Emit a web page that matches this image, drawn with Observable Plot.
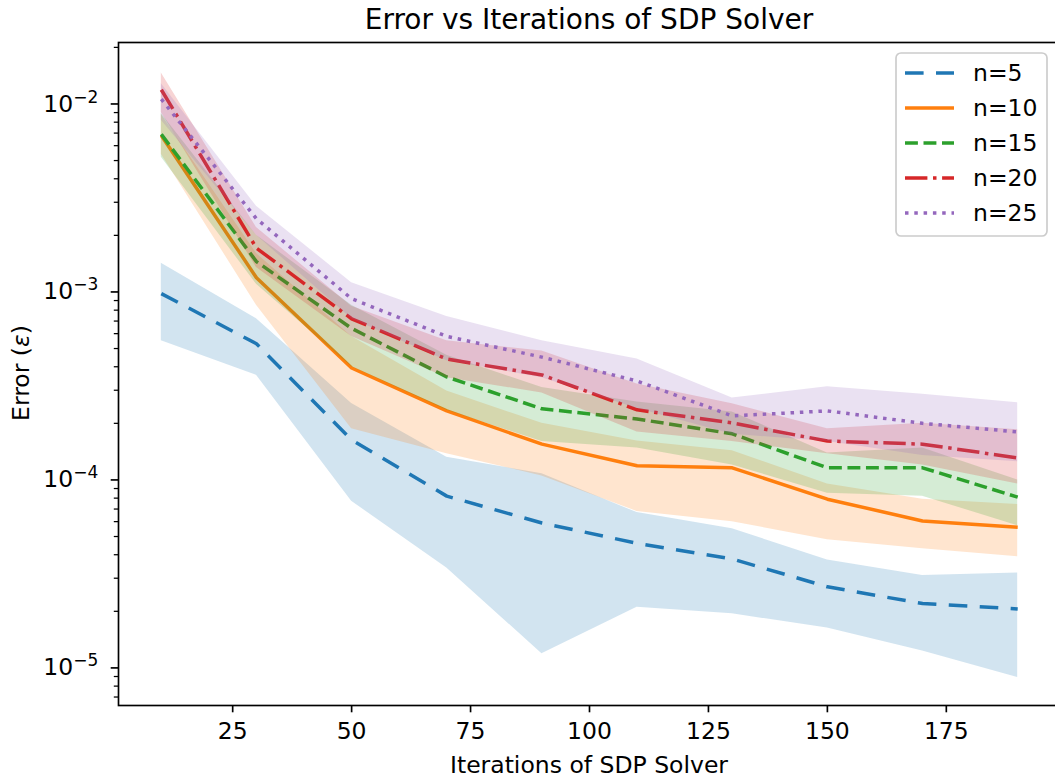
<!DOCTYPE html>
<html><head><meta charset="utf-8">
<script src="https://cdn.jsdelivr.net/npm/d3@7"></script>
<script src="https://cdn.jsdelivr.net/npm/@observablehq/plot@0.6"></script>
<style>
html,body{margin:0;padding:0;background:#fff;overflow:hidden;}
#chart{position:relative;width:1055px;height:780px;overflow:hidden;}
#chart svg{max-width:none !important;}
</style></head><body><div id="chart"></div>
<script>
const iterations = [10, 30, 50, 70, 90, 110, 130, 150, 170, 190];
const seriesNames = ["n=5", "n=10", "n=15", "n=20", "n=25"];
const colors = ["#1f77b4", "#ff7f0e", "#2ca02c", "#d62728", "#9467bd"];
const dashes = ["18.6,12.4", "none", "12.9,5.6", "22.4,5.6,3.5,5.6", "3.5,5.8"];

const n5Mean = [9.8e-4, 5.3e-4, 1.63e-4, 8.2e-5, 5.9e-5, 4.6e-5, 3.8e-5, 2.7e-5, 2.2e-5, 2.06e-5];
const n5Low  = [5.5e-4, 3.6e-4, 7.7e-5, 3.4e-5, 1.19e-5, 2.1e-5, 1.94e-5, 1.63e-5, 1.23e-5, 8.9e-6];
const n5High = [1.42e-3, 7.2e-4, 2.55e-4, 1.32e-4, 1.08e-4, 6.7e-5, 5.5e-5, 3.75e-5, 3.1e-5, 3.2e-5];

const n10Mean = [6.8e-3, 1.19e-3, 3.94e-4, 2.33e-4, 1.55e-4, 1.19e-4, 1.16e-4, 7.9e-5, 6.05e-5, 5.6e-5];
const n10Low  = [5.4e-3, 8.5e-4, 1.87e-4, 1.38e-4, 1.05e-4, 6.8e-5, 6.0e-5, 4.8e-5, 4.3e-5, 3.9e-5];
const n10High = [8.8e-3, 1.6e-3, 5.8e-4, 2.97e-4, 2.0e-4, 1.61e-4, 1.43e-4, 9.5e-5, 7.9e-5, 7.4e-5];

const n15Mean = [6.9e-3, 1.45e-3, 6.4e-4, 3.53e-4, 2.39e-4, 2.11e-4, 1.76e-4, 1.16e-4, 1.16e-4, 8.1e-5];
const n15Low  = [5.2e-3, 1.1e-3, 4.0e-4, 2.35e-4, 1.6e-4, 1.48e-4, 1.2e-4, 8.5e-5, 8.2e-5, 5.7e-5];
const n15High = [8.9e-3, 2.0e-3, 8.5e-4, 4.6e-4, 3.1e-4, 2.6e-4, 2.3e-4, 1.39e-4, 1.48e-4, 1.0e-4];

const n20Mean = [1.19e-2, 1.71e-3, 7.2e-4, 4.4e-4, 3.62e-4, 2.36e-4, 2.01e-4, 1.61e-4, 1.55e-4, 1.31e-4];
const n20Low  = [9.0e-3, 1.35e-3, 5.8e-4, 3.5e-4, 2.9e-4, 1.8e-4, 1.6e-4, 1.38e-4, 1.2e-4, 9.5e-5];
const n20High = [1.46e-2, 2.2e-3, 8.4e-4, 5.5e-4, 4.85e-4, 3.24e-4, 2.54e-4, 1.87e-4, 2.0e-4, 1.85e-4];

const n25Mean = [1.06e-2, 2.45e-3, 9.2e-4, 5.8e-4, 4.5e-4, 3.36e-4, 2.19e-4, 2.33e-4, 2.0e-4, 1.8e-4];
const n25Low  = [8.2e-3, 2.0e-3, 7.2e-4, 4.3e-4, 3.5e-4, 2.4e-4, 1.75e-4, 1.6e-4, 1.35e-4, 1.25e-4];
const n25High = [1.28e-2, 2.86e-3, 1.12e-3, 7.4e-4, 5.5e-4, 4.4e-4, 2.73e-4, 3.13e-4, 2.86e-4, 2.57e-4];

const xTicks = [25, 50, 75, 100, 125, 150, 175];
const yMajorTicks = [1e-5, 1e-4, 1e-3, 1e-2];
const yMinorTicks = [7e-6, 8e-6, 9e-6,
  2e-5, 3e-5, 4e-5, 5e-5, 6e-5, 7e-5, 8e-5, 9e-5,
  2e-4, 3e-4, 4e-4, 5e-4, 6e-4, 7e-4, 8e-4, 9e-4,
  2e-3, 3e-3, 4e-3, 5e-3, 6e-3, 7e-3, 8e-3, 9e-3, 2e-2];

const titleText = "Error vs Iterations of SDP Solver";
const xLabelText = "Iterations of SDP Solver";

const allMeans = [n5Mean, n10Mean, n15Mean, n20Mean, n25Mean];
const allLows = [n5Low, n10Low, n15Low, n20Low, n25Low];
const allHighs = [n5High, n10High, n15High, n20High, n25High];

const seriesRows = seriesNames.map((name, s) => iterations.map((x, i) => ({
  series: name, x, mean: allMeans[s][i], lo: allLows[s][i], hi: allHighs[s][i]
})));

const FS = 23.5;
const marks = [];
seriesRows.forEach((rows, s) => {
  marks.push(Plot.areaY(rows, {x: "x", y1: "lo", y2: "hi", fill: colors[s], fillOpacity: 0.2}));
  marks.push(Plot.lineY(rows, {x: "x", y: "mean", stroke: colors[s], strokeWidth: 3.5,
    strokeDasharray: dashes[s], strokeLinecap: "butt", strokeLinejoin: "round"}));
});

marks.push(Plot.axisX({ticks: xTicks, tickSize: 7.3, tickPadding: 10, strokeWidth: 1.67, label: null, fontSize: FS, tickFormat: d => String(d)}));
marks.push(Plot.axisY({ticks: yMajorTicks, tickSize: 7.3, tickPadding: 13, strokeWidth: 1.67, label: null, fontSize: FS,
  tickFormat: d => "10^" + Math.round(Math.log10(d))}));
marks.push(Plot.axisY({ticks: yMinorTicks, tickSize: 4.2, strokeWidth: 1.25, label: null, tickFormat: () => ""}));
marks.push(Plot.frame({stroke: "black", strokeWidth: 1.67}));

const svg = Plot.plot({
  width: 1062, height: 780,
  marginLeft: 118, marginRight: 2, marginTop: 42, marginBottom: 75,
  style: {fontFamily: "'DejaVu Sans', sans-serif", fontSize: FS + "px", color: "black", background: "white", maxWidth: "none"},
  x: {domain: [1, 199]},
  y: {type: "log", domain: [Math.pow(10, -5.2), Math.pow(10, -1.673)]},
  marks
});
svg.style.maxWidth = "none";

document.getElementById("chart").appendChild(svg);
const S = d3.select(svg);

// superscript tick labels
S.selectAll('g[aria-label="y-axis tick label"] text').each(function() {
  const t = d3.select(this);
  const s = t.text();
  if (!s) return;
  const k = s.split("^")[1];
  t.text("10");
  t.append("tspan").attr("dy", "-9px").attr("font-size", "17px").text("\u2212" + Math.abs(+k));
});

// title & axis labels
S.append("text").attr("x", 589).attr("y", 29).attr("text-anchor", "middle")
  .attr("font-size", 28).attr("fill", "black").text(titleText);
S.append("text").attr("x", 589).attr("y", 773).attr("text-anchor", "middle")
  .attr("font-size", FS).attr("fill", "black").text(xLabelText);
const yl = S.append("text").attr("transform", "translate(29,373) rotate(-90)").attr("text-anchor", "middle")
  .attr("font-size", FS).attr("fill", "black");
yl.append("tspan").text("Error (");
yl.append("tspan").attr("font-style", "italic").text("\u03b5");
yl.append("tspan").text(")");

// legend
const lg = S.append("g").attr("transform", "translate(896,53)");
lg.append("rect").attr("width", 151).attr("height", 183).attr("rx", 5)
  .attr("fill", "white").attr("fill-opacity", 0.8).attr("stroke", "#cccccc").attr("stroke-width", 1.67);
seriesNames.forEach((name, s) => {
  const y = 20 + s * 35;
  lg.append("line").attr("x1", 9).attr("x2", 58).attr("y1", y).attr("y2", y)
    .attr("stroke", colors[s]).attr("stroke-width", 3.5)
    .attr("stroke-dasharray", dashes[s]).attr("stroke-linecap", "butt");
  lg.append("text").attr("x", 77).attr("y", y).attr("dy", "0.36em").attr("text-anchor", "start")
    .attr("font-size", FS).attr("fill", "black").text(name);
});
</script></body></html>
